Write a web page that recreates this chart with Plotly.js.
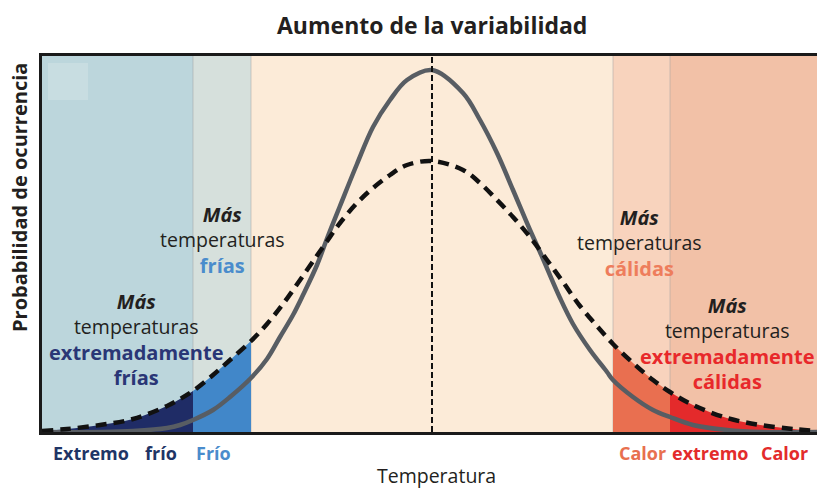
<!DOCTYPE html>
<html>
<head>
<meta charset="utf-8">
<script src="https://cdn.plot.ly/plotly-3.0.1.min.js"></script>
<style>html,body{margin:0;padding:0;background:#fff;}#chart{width:817px;height:488px;}</style>
</head>
<body>
<div id="chart"></div>
<script>
// Temperature (arbitrary units, mean = 0) and probability (arbitrary units)
const solidX = [-390,-330,-299,-265,-252,-239,-219,-202,-181,-165,-152,-139,-129,-115,-104,-92,-75,-59,-42,-25,0,31,48,65,81,98,108,128,141,158,175,181,201,221,238,261,295,330,385];
const solidY = [0,0,1,4,7,12,22,35,54,73,95,117,137,167,196,226,268,305,332,352,362,339,312,279,242,202,180,134,108,82,60,52,35,22,15,7,2,0,0];
const dashX = [-390,-365,-332,-299,-265,-252,-239,-219,-202,-181,-165,-149,-125,-109,-92,-75,-59,-42,-25,0,31,48,65,81,98,115,131,148,165,181,201,221,238,261,295,328,361,385];
const dashY = [1,3,7,13,26,33,41,57,72,91,108,128,162,185,209,229,244,257,267,271,262,249,232,215,195,172,150,126,106,88,69,52,40,27,14,7,3,1];
// Category band limits (temperature units)
const bandEdges = [-390,-239,-181,181,238,385];
const bandColors = ['#bcd6dc','#d6e0dc','#fcebd8','#f8d3bd','#f2c1a7'];
const fillColors = ['#1f2c66','#4187c9',null,'#e96f50','#e42a2b'];
// Text labels
const bottomLabels = ['Extremo','frío','Frío','Calor','extremo','Calor'];
const bottomColors = ['#1f3566','#1f3566','#4a8ccc','#e8704f','#e32b2b','#e32b2b'];

const traces = [];
for (let i = 0; i < 5; i++) {
  if (!fillColors[i]) continue;
  const a = bandEdges[i], b = bandEdges[i+1];
  const xs = [], ys = [];
  dashX.forEach((x, k) => { if (x >= a && x <= b) { xs.push(x); ys.push(dashY[k]); } });
  traces.push({x: xs, y: ys, type: 'scatter', mode: 'lines', fill: 'tozeroy',
    fillcolor: fillColors[i], line: {width: 0, shape: 'spline', color: fillColors[i]}, hoverinfo: 'skip', showlegend: false});
}
traces.push({x: solidX, y: solidY, type: 'scatter', mode: 'lines',
  line: {color: '#585d63', width: 4.5, shape: 'spline'}, showlegend: false});
traces.push({x: dashX, y: dashY, type: 'scatter', mode: 'lines',
  line: {color: '#111111', width: 4.5, dash: '11px,7px', shape: 'spline'}, showlegend: false});

const shapes = [];
for (let i = 0; i < 5; i++) {
  shapes.push({type: 'rect', xref: 'x', yref: 'paper', x0: bandEdges[i], x1: bandEdges[i+1], y0: 0, y1: 1,
    fillcolor: bandColors[i], line: {width: 0}, layer: 'below'});
}
[1,2,3,4].forEach(i => shapes.push({type: 'line', xref: 'x', yref: 'paper', x0: bandEdges[i], x1: bandEdges[i], y0: 0, y1: 1,
  line: {color: 'rgba(160,160,160,0.35)', width: 1.5}, layer: 'below'}));
shapes.push({type: 'rect', xref: 'x', yref: 'y', x0: -384, x1: -344, y0: 332, y1: 369, fillcolor: '#c8dde1', line: {width: 0}, layer: 'below'});
shapes.push({type: 'line', xref: 'x', yref: 'paper', x0: 0, x1: 0, y0: 0, y1: 1, line: {color: '#111', width: 2, dash: '6px,3px'}, layer: 'above'});

const F = 'Open Sans, Noto Sans, sans-serif';
function ann(px, py, text, color, size, angle) {
  return {x: (px - 42) / 775, y: (432 - py) / 376, xref: 'paper', yref: 'paper', text: text, showarrow: false,
    textangle: angle || 0, xanchor: 'center', yanchor: 'middle', align: 'center',
    font: {family: F, size: size || 19.5, color: color || '#231f20'}};
}
function blk(px, py, colored, color) {
  const lines = ['<span style="font-size:20px"><b><i>Más</i></b></span>', 'temperaturas']
    .concat(colored.map(w => '<span style="font-size:20px;color:' + color + '"><b>' + w + '</b></span>'));
  return ann(px, py, lines.join('<br>'));
}
const bottomX = [91, 161, 213, 642, 710, 784];
const annotations = [
  blk(136, 339, ['extremadamente', 'frías'], '#2a3676'),
  blk(222, 240, ['frías'], '#4a8ccc'),
  blk(639, 243, ['cálidas'], '#ee7d5c'),
  blk(727, 343, ['extremadamente', 'cálidas'], '#e8292b'),
  ann(436, 475, 'Temperatura', '#231f20', 19.5),
  ann(432, 25, '<b>Aumento de la variabilidad</b>', '#231f20', 23),
  ann(19, 198, '<b>Probabilidad de ocurrencia</b>', '#231f20', 20, -90)
];
bottomLabels.forEach((t, i) => annotations.push(ann(bottomX[i], 453, '<b>' + t + '</b>', bottomColors[i], 18)));

const layout = {
  width: 817, height: 488,
  margin: {l: 42, r: 0, t: 56, b: 56},
  paper_bgcolor: '#ffffff', plot_bgcolor: '#fcebd8',
  showlegend: false,
  xaxis: {range: [-390, 385], showline: true, mirror: true, linewidth: 3, linecolor: '#1a1a1a',
    showgrid: false, zeroline: false, showticklabels: false, ticks: '', fixedrange: true},
  yaxis: {range: [0, 376], showline: true, mirror: false, linewidth: 3, linecolor: '#1a1a1a',
    showgrid: false, zeroline: false, showticklabels: false, ticks: '', fixedrange: true},
  shapes: shapes,
  annotations: annotations
};
Plotly.newPlot('chart', traces, layout, {displayModeBar: false, staticPlot: true});
</script>
</body>
</html>
